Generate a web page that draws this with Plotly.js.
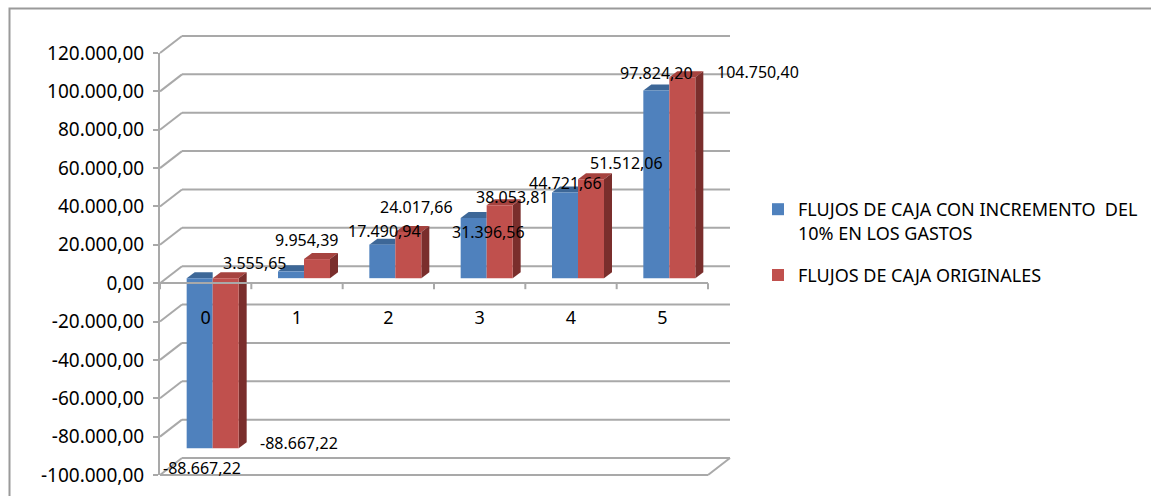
<!DOCTYPE html>
<html><head><meta charset="utf-8">
<script src="https://cdn.plot.ly/plotly-3.0.1.min.js"></script>
<style>html,body{margin:0;padding:0;background:#fff;}#chart{width:1151px;height:496px;}</style>
</head><body><div id="chart"></div>
<script>
// ---------- data ----------
const categories = ['0', '1', '2', '3', '4', '5'];
const seriesNames = ['FLUJOS DE CAJA CON INCREMENTO \u00a0DEL<br>10% EN LOS GASTOS', 'FLUJOS DE CAJA ORIGINALES'];
const flujosIncremento = [-88667.22, 3555.65, 17490.94, 31396.56, 44721.66, 97824.20];
const flujosOriginales = [-88667.22, 9954.39, 24017.66, 38053.81, 51512.06, 104750.40];
const yTickValues = [-100000, -80000, -60000, -40000, -20000, 0, 20000, 40000, 60000, 80000, 100000, 120000];

// ---------- label placement (pixel shifts, style only) ----------
const labelShiftIncremento = [[-11, -20], [-49, 8], [-11, 14], [2, -14], [-13, 9], [-13, 18]];
const labelShiftOriginales = [[86, 5], [3, 19], [21, 25], [26, 8], [48, 16], [89, 5]];

// ---------- geometry ----------
const PL = 150, PR = 745, PT = 28, PB = 482;
const FX0 = 160, FX1 = 708, FYMIN = 475, FYMAX = 53;
const YMIN = -100000, YMAX = 120000, XMIN = -0.5, XMAX = categories.length - 0.5;
const PXU = (FX1 - FX0) / (XMAX - XMIN);
const K = (FYMIN - FYMAX) / (YMAX - YMIN);
const pw = PR - PL, ph = PB - PT;
const canvasX = [XMIN - (FX0 - PL) / PXU, XMIN + (PR - FX0) / PXU];
const canvasY = [YMIN - (PB - FYMIN) / K, YMIN + (FYMIN - PT) / K];
const barX = canvasX.map(v => v - 7 / PXU);
const barY = canvasY.map(v => v - 5 / K);
const BW = 26 / PXU;            // bar width
const DX = 8 / PXU, DY = 6 / K; // bar depth
const BX = 22 / PXU, BY = 17 / K; // wall depth
const px2x = p => (p - PL) / pw, px2y = p => (PB - p) / ph;

const BLUE = '#4F81BD', RED = '#C0504D';
const BLUE_TOP = '#3D6797', RED_TOP = '#A6433F', RED_SIDE = '#7A2E2C';
const GRID = '#A9A9A9';
const FONT = 'Noto Sans, DejaVu Sans, sans-serif';

function fmt(v) {
  const s = v < 0 ? '-' : '';
  const parts = Math.abs(v).toFixed(2).split('.');
  const ip = parts[0].replace(/\B(?=(\d{3})+(?!\d))/g, '.');
  return s + ip + ',' + parts[1];
}

const xIdx = categories.map((c, i) => i);

const traces = [
  {type: 'bar', name: seriesNames[0], x: xIdx, y: flujosIncremento, xaxis: 'x', yaxis: 'y',
   width: BW, offset: -BW, marker: {color: BLUE, line: {width: 0}}, hoverinfo: 'y', legendgroup: 'a'},
  {type: 'bar', name: seriesNames[1], x: xIdx, y: flujosOriginales, xaxis: 'x', yaxis: 'y',
   width: BW, offset: 0, marker: {color: RED, line: {width: 0}}, hoverinfo: 'y', legendgroup: 'b'},
  {type: 'scatter', x: [], y: [], xaxis: 'x2', yaxis: 'y2', showlegend: false, hoverinfo: 'skip'},
  {type: 'scatter', x: [], y: [], xaxis: 'x3', yaxis: 'y3', showlegend: false, hoverinfo: 'skip'}
];

const shapes = [];
// outer chart border
shapes.push({type: 'rect', xref: 'paper', yref: 'paper', layer: 'below',
  x0: px2x(9.5), x1: px2x(1170), y0: px2y(520), y1: px2y(8.5),
  line: {color: '#9A9A9A', width: 2}, fillcolor: 'rgba(0,0,0,0)'});
// back wall gridlines and depth diagonals
yTickValues.forEach(v => {
  shapes.push({type: 'line', xref: 'x2', yref: 'y2', layer: 'below',
    x0: XMIN + BX, x1: XMAX + BX, y0: v + BY, y1: v + BY, line: {color: GRID, width: 2}});
  shapes.push({type: 'line', xref: 'x2', yref: 'y2', layer: 'below',
    x0: XMIN, x1: XMIN + BX, y0: v, y1: v + BY, line: {color: GRID, width: 2}});
});
// floor front edge + right diagonal
shapes.push({type: 'line', xref: 'x2', yref: 'y2', layer: 'below',
  x0: XMIN, x1: XMAX, y0: YMIN, y1: YMIN, line: {color: GRID, width: 2}});
shapes.push({type: 'line', xref: 'x2', yref: 'y2', layer: 'below',
  x0: XMAX, x1: XMAX + BX, y0: YMIN, y1: YMIN + BY, line: {color: GRID, width: 2}});
// category boundary tick marks on the zero line
for (let i = 0; i <= categories.length; i++) {
  const u = XMIN + i;
  shapes.push({type: 'line', xref: 'x2', yref: 'y2', layer: 'below',
    x0: u, x1: u, y0: 0, y1: -6 / K, line: {color: GRID, width: 2}});
}
// 3D faces of the bars
function faces(vals, off, topColor, sideColor) {
  vals.forEach((v, i) => {
    const l = i + off, r = l + BW;
    const top = Math.max(0, v), bot = Math.min(0, v);
    if (sideColor) {
      shapes.push({type: 'path', xref: 'x', yref: 'y', layer: 'below', line: {width: 0},
        fillcolor: topColor,
        path: `M${l},${top} L${r},${top} L${r + DX},${top + DY} L${l + DX},${top + DY} Z`});
      shapes.push({type: 'path', xref: 'x', yref: 'y', layer: 'below', line: {width: 0},
        fillcolor: sideColor,
        path: `M${r},${bot} L${r + DX},${bot + DY} L${r + DX},${top + DY} L${r},${top} Z`});
    } else {
      shapes.push({type: 'path', xref: 'x', yref: 'y', layer: 'below', line: {width: 0},
        fillcolor: topColor,
        path: `M${l},${top} L${r},${top} L${r},${top + DY} L${l + DX},${top + DY} Z`});
    }
  });
}
faces(flujosIncremento, -BW, BLUE_TOP, null);
faces(flujosOriginales, 0, RED_TOP, RED_SIDE);

// data labels
const annotations = [];
function labels(vals, shifts) {
  vals.forEach((v, i) => {
    annotations.push({xref: 'x', yref: 'y', x: i, y: v, text: fmt(v), showarrow: false,
      xshift: shifts[i][0], yshift: shifts[i][1], font: {family: FONT, size: 16, color: '#000'}});
  });
}
labels(flujosIncremento, labelShiftIncremento);
labels(flujosOriginales, labelShiftOriginales);

const layout = {
  width: 1151, height: 496,
  margin: {l: PL, r: 1151 - PR, t: PT, b: 496 - PB, pad: 0, autoexpand: false},
  paper_bgcolor: '#fff', plot_bgcolor: 'rgba(0,0,0,0)',
  font: {family: FONT, size: 18, color: '#000'},
  showlegend: true,
  barmode: 'overlay',
  // bar plane (slightly behind the front plane)
  xaxis: {domain: [0, 1], range: barX, anchor: 'y', visible: false, fixedrange: true},
  yaxis: {domain: [0, 1], range: barY, anchor: 'x', visible: false, fixedrange: true},
  // 3D frame canvas (front-plane units)
  xaxis2: {range: canvasX, overlaying: 'x', anchor: 'y2', visible: false, fixedrange: true},
  yaxis2: {range: canvasY, overlaying: 'y', anchor: 'x2', visible: false, fixedrange: true},
  // front-plane axes with labels
  xaxis3: {domain: [px2x(FX0), px2x(FX1)], range: [XMIN, XMAX], anchor: 'free', position: px2y(305),
    tickvals: xIdx, ticktext: categories, ticks: '', showline: false, showgrid: false, zeroline: false,
    tickfont: {family: FONT, size: 18, color: '#000'}, fixedrange: true},
  yaxis3: {domain: [px2y(FYMIN), px2y(FYMAX)], range: [YMIN, YMAX], anchor: 'x3',
    tickvals: yTickValues, ticktext: yTickValues.map(fmt), ticks: 'outside', ticklen: 5, tickwidth: 2,
    tickcolor: GRID, showline: true, linecolor: GRID, linewidth: 2, showgrid: false,
    zeroline: true, zerolinecolor: GRID, zerolinewidth: 2, ticklabelstandoff: 5,
    tickfont: {family: FONT, size: 19, color: '#000'}, fixedrange: true},
  legend: {x: px2x(758), y: px2y(191), xanchor: 'left', yanchor: 'top', valign: 'top',
    traceorder: 'grouped', tracegroupgap: 16,
    font: {family: FONT, size: 18, color: '#000'}, bgcolor: 'rgba(0,0,0,0)'},
  shapes: shapes,
  annotations: annotations
};

Plotly.newPlot('chart', traces, layout, {displayModeBar: false, staticPlot: true});
</script></body></html>
